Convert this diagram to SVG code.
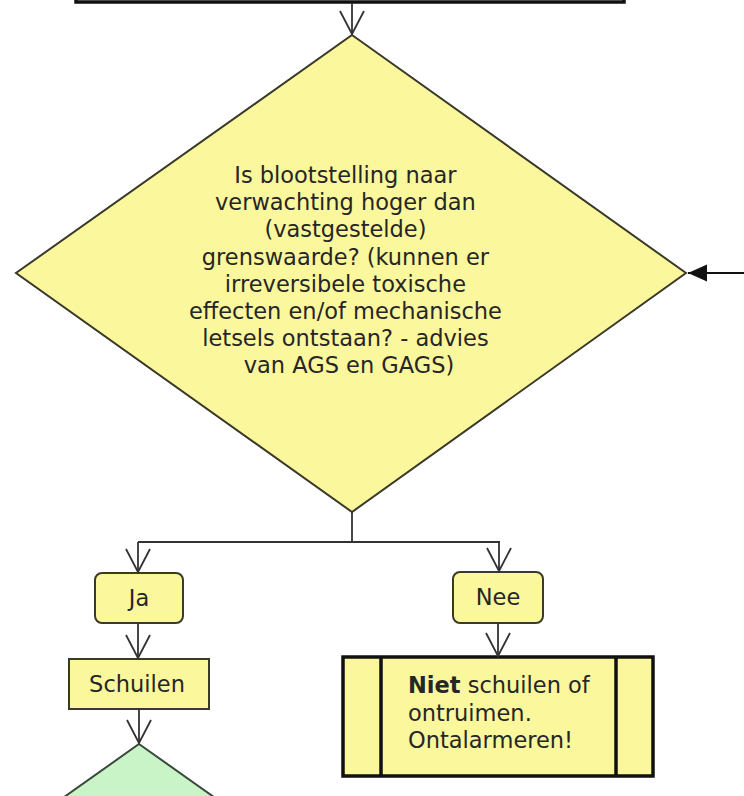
<svg xmlns="http://www.w3.org/2000/svg" width="744" height="796" viewBox="0 0 744 796">
<style>
.t{font-family:"DejaVu Sans","Verdana",sans-serif;font-size:22.5px;fill:#262626}
.c{text-anchor:middle}
.yl{fill:#fbf79c;stroke:#3a3a2a;stroke-width:2}
.con{fill:none;stroke:#333;stroke-width:1.8}
.thick{fill:#fbf79c;stroke:#111;stroke-width:3.5}
</style>
<defs>
<marker id="v" viewBox="-24 -13 26 26" markerWidth="26" markerHeight="26" refX="0" refY="0" orient="auto" markerUnits="userSpaceOnUse">
<path d="M-23,-12 L0,0 L-23,12" fill="none" stroke="#333" stroke-width="1.8"/>
</marker>
<marker id="tri" viewBox="-20 -10 22 20" markerWidth="22" markerHeight="20" refX="0" refY="0" orient="auto" markerUnits="userSpaceOnUse">
<path d="M-19,-8.5 L0,0 L-19,8.5 Z" fill="#111"/>
</marker>
</defs>
<rect width="744" height="796" fill="#fff"/>
<g id="top-box"><rect x="76" y="-30" width="548" height="32" fill="#fff" stroke="#111" stroke-width="3.5"/></g>
<g id="decision">
<polygon class="yl" points="352,35 686,273 352,512 16,273"/>
<text class="t c">
<tspan x="349" y="183">Is blootstelling naar</tspan>
<tspan x="349" y="210.2">verwachting hoger dan</tspan>
<tspan x="349" y="237.4">(vastgestelde)</tspan>
<tspan x="349" y="264.6">grenswaarde? (kunnen er</tspan>
<tspan x="349" y="291.8">irreversibele toxische</tspan>
<tspan x="349" y="319">effecten en/of mechanische</tspan>
<tspan x="349" y="346.2">letsels ontstaan? - advies</tspan>
<tspan x="349" y="373.4">van AGS en GAGS)</tspan>
</text>
</g>
<g id="ja"><rect class="yl" x="95" y="573" width="88" height="50" rx="7"/><text class="t c" x="139" y="606">Ja</text></g>
<g id="nee"><rect class="yl" x="453" y="572" width="90" height="51" rx="7"/><text class="t c" x="498" y="605">Nee</text></g>
<g id="schuilen"><rect class="yl" x="69" y="659" width="140" height="50"/><text class="t c" x="137" y="692">Schuilen</text></g>
<g id="niet">
<rect class="thick" x="343" y="657" width="310" height="119"/>
<line x1="381" y1="657" x2="381" y2="776" stroke="#111" stroke-width="3.5"/>
<line x1="616" y1="657" x2="616" y2="776" stroke="#111" stroke-width="3.5"/>
<text class="t" x="408" y="693"><tspan font-weight="bold">Niet</tspan> schuilen of</text>
<text class="t" x="408" y="721">ontruimen.</text>
<text class="t" x="408" y="748">Ontalarmeren!</text>
</g>
<g id="green-decision"><polygon points="139,744 475,982 139,1220 -197,982" fill="#c8f4c8" stroke="#3a4a3a" stroke-width="2"/></g>
<g id="connectors">
<path class="con" d="M352,3 L352,34" marker-end="url(#v)"/>
<path class="con" d="M352,512 L352,542 M138,542 L500,542"/>
<path class="con" d="M138,542 L138,572" marker-end="url(#v)"/>
<path class="con" d="M499,542 L499,571" marker-end="url(#v)"/>
<path class="con" d="M138,623 L138,658" marker-end="url(#v)"/>
<path class="con" d="M498,623 L498,656" marker-end="url(#v)"/>
<path class="con" d="M139,709 L139,743" marker-end="url(#v)"/>
<path d="M744,273 L688,273" stroke="#111" stroke-width="1.8" fill="none" marker-end="url(#tri)"/>
</g>
</svg>
